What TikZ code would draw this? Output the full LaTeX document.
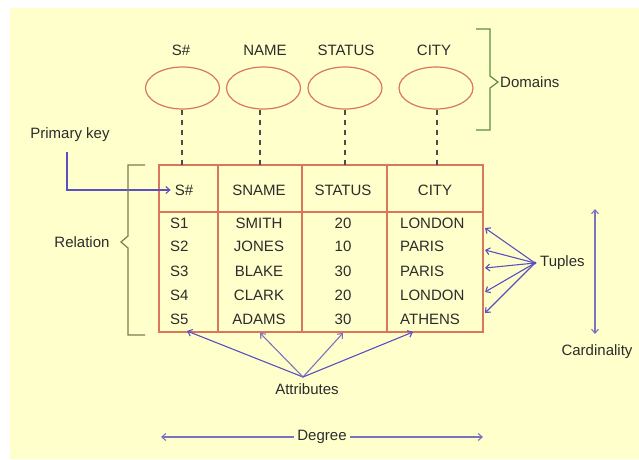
\documentclass[tikz,border=0pt]{standalone}
\usepackage{fontspec}
\setmainfont{Liberation Sans}
\usetikzlibrary{shapes.geometric,arrows.meta}
\definecolor{bgyellow}{HTML}{FFFFCC}
\definecolor{gridred}{HTML}{D9765C}
\definecolor{arrowblue}{HTML}{5A50C0}
\definecolor{softblue}{HTML}{7A74C0}
\definecolor{bracegreen}{HTML}{5E8C3E}
\definecolor{braceolive}{HTML}{7C7C52}
\definecolor{inkgray}{HTML}{2C2C2C}

\begin{document}
\begin{tikzpicture}[x=1pt,y=-1pt,
  txt/.style={inner sep=0pt, text=inkgray, font=\fontsize{15}{17}\selectfont},
  domainoval/.style={ellipse, draw=gridred, line width=1.2pt, minimum width=74pt, minimum height=42pt, inner sep=0pt},
  tablegrid/.style={draw=gridred, line width=1.2pt},
  dashlink/.style={draw=inkgray!85, line width=1.1pt, dash pattern=on 5pt off 5pt},
  ptr/.style={draw=arrowblue, line width=1.1pt, -{Straight Barb[length=4pt,width=7pt]}},
  softptr/.style={ptr, draw=softblue},
  bracketline/.style={line width=1.2pt, line join=miter}
]
% canvas
\useasboundingbox (0,0) rectangle (639,459);
\fill[white] (0,0) rectangle (639,459);
\fill[bgyellow] (10,8) rectangle (639,459);

% domains: labels and ellipses
\node[txt] (l1) at (181,50) {S\#};
\node[txt] (l2) at (265,50) {NAME};
\node[txt] (l3) at (346,50) {STATUS};
\node[txt] (l4) at (434,50) {CITY};
\node[domainoval] (e1) at (182.5,88) {};
\node[domainoval] (e2) at (263.5,88) {};
\node[domainoval] (e3) at (345,88) {};
\node[domainoval] (e4) at (436,88) {};

% relation table
\draw[tablegrid] (159,165) rectangle (483,332);
\draw[tablegrid] (159,212) -- (483,212);
\draw[tablegrid] (218,165) -- (218,332);
\draw[tablegrid] (302,165) -- (302,332);
\draw[tablegrid] (387,165) -- (387,332);

\coordinate (t1) at (182,165);
\coordinate (t2) at (260,165);
\coordinate (t3) at (345,165);
\coordinate (t4) at (437,165);
\foreach \i in {1,...,4} \draw[dashlink] (t\i |- e\i.south) -- (t\i);

% header
\node[txt] (hS) at (184,190) {S\#};
\node[txt] (hN) at (259,190) {SNAME};
\node[txt] (hT) at (343,190) {STATUS};
\node[txt] (hC) at (435,190) {CITY};

% tuples
\foreach \y/\sn/\nm/\st/\ct [count=\r] in {
  223/S1/SMITH/20/LONDON,
  246/S2/JONES/10/PARIS,
  271/S3/BLAKE/30/PARIS,
  295/S4/CLARK/20/LONDON,
  319/S5/ADAMS/30/ATHENS} {
  \node[txt, anchor=west] (r\r c1) at (170,\y) {\sn};
  \node[txt] (r\r c2) at (259,\y) {\nm};
  \node[txt] (r\r c3) at (343,\y) {\st};
  \node[txt, anchor=west] (r\r c4) at (400,\y) {\ct};
}

% primary key
\node[txt] (pk) at (70,135) {Primary key};
\coordinate (pkstart) at (67,152);
\draw[ptr] (pkstart) |- ([xshift=-4pt]hS.west);

% relation bracket
\node[txt] (rel) at (82,242) {Relation};
\draw[bracketline, draw=braceolive] (145,165) -- (128,165) -- (128,236) -- (121,242) -- (128,248) -- (128,335) -- (145,335);

% domains bracket
\node[txt, anchor=west] (dom) at (500,82) {Domains};
\draw[bracketline, draw=bracegreen] (476,29) -- (490,29) -- (490,76) -- (498,82) -- (490,88) -- (490,130) -- (476,130);

% tuples fan
\node[txt, anchor=west] (tup) at (540,263) {Tuples};
\coordinate (tfan) at (535,263);
\coordinate (tp1) at (485,228);
\coordinate (tp2) at (485,250);
\coordinate (tp3) at (485,268);
\coordinate (tp4) at (485,292);
\coordinate (tp5) at (485,313);
\foreach \i in {1,...,5} \draw[ptr] (tfan) -- (tp\i);
\fill[arrowblue] (tfan) circle (1.6pt);

% cardinality
\node[txt] (card) at (597,352) {Cardinality};
\coordinate (cTop) at (595,209);
\coordinate (cBot) at (595,334);
\draw[softptr, {Straight Barb[length=4pt,width=7pt]}-{Straight Barb[length=4pt,width=7pt]}] (cTop) -- (cBot);

% attributes fan
\node[txt] (attr) at (307,389) {Attributes};
\coordinate (afan) at (303,377);
\coordinate (ap1) at (187,331);
\coordinate (ap2) at (260,333);
\coordinate (ap3) at (343,333);
\coordinate (ap4) at (413,332);
\draw[ptr] (afan) -- (ap1);
\draw[softptr] (afan) -- (ap2);
\draw[softptr] (afan) -- (ap3);
\draw[ptr] (afan) -- (ap4);

% degree
\node[txt] (deg) at (322,437) {Degree};
\coordinate (dL) at (161,437);
\coordinate (dR) at (483,437);
\draw[softptr] ([xshift=-3pt]deg.west) -- (dL);
\draw[softptr] ([xshift=3pt]deg.east) -- (dR);
\end{tikzpicture}
\end{document}
